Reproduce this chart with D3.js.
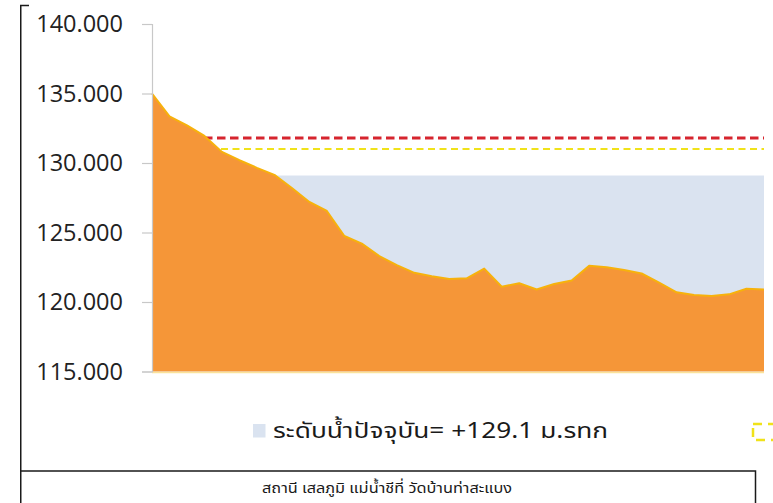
<!DOCTYPE html>
<html>
<head>
<meta charset="utf-8">
<script src="https://cdn.jsdelivr.net/npm/d3@7"></script>
<style>
  html, body { margin: 0; padding: 0; background: #fff; }
  svg { display: block; }
</style>
</head>
<body>
<svg id="chart" width="773" height="503"></svg>
<script>
// Water level profile (m. MSL) along the station reach
const levels = [135.0, 133.35, 132.7, 131.95, 130.8, 130.2, 129.65, 129.15, 128.2, 127.2,
                126.55, 124.75, 124.2, 123.3, 122.65, 122.1, 121.85, 121.65, 121.7, 122.4,
                121.1, 121.35, 120.9, 121.3, 121.55, 122.6, 122.5, 122.3, 122.05, 121.4,
                120.7, 120.5, 120.43, 120.55, 120.95, 120.9];
const positions = levels.map((_, i) => i);

const currentLevel = 129.1;   // ระดับน้ำปัจจุบัน
const criticalLevel = 131.8;  // red dashed line
const warningLevel = 131.0;   // yellow dashed line

const yTicks = [115, 120, 125, 130, 135, 140];
const legendLabel = "ระดับน้ำปัจจุบัน=  +129.1 ม.รทก";
const stationTitle = "สถานี เสลภูมิ แม่น้ำชีที่ วัดบ้านท่าสะแบง";

const svg = d3.select("#chart");
const plotL = 152, plotR = 764, plotT = 24, plotB = 371.5;

const x = d3.scalePoint().domain(positions).range([plotL, plotR]);
const y = d3.scaleLinear().domain([115, 140]).range([plotB, plotT]);

// current level band
svg.append("rect")
  .attr("x", plotL).attr("y", y(currentLevel))
  .attr("width", plotR - plotL).attr("height", y(115) - y(currentLevel))
  .attr("fill", "#dae3f0");

// threshold lines
svg.append("line")
  .attr("x1", plotL).attr("x2", plotR)
  .attr("y1", y(criticalLevel)).attr("y2", y(criticalLevel))
  .attr("stroke", "#d6252e").attr("stroke-width", 3)
  .attr("stroke-dasharray", "8.5,4.5");
svg.append("line")
  .attr("x1", plotL).attr("x2", plotR)
  .attr("y1", y(warningLevel)).attr("y2", y(warningLevel))
  .attr("stroke", "#f0e21a").attr("stroke-width", 2)
  .attr("stroke-dasharray", "7,4.5");

// water level area
const area = d3.area()
  .x(d => x(d[0])).y0(y(115)).y1(d => y(d[1]));
const line = d3.line().x(d => x(d[0])).y(d => y(d[1]));
const pts = positions.map((p, i) => [p, levels[i]]);
svg.append("path").datum(pts).attr("d", area).attr("fill", "#f59638");
svg.append("path").datum(pts).attr("d", line)
  .attr("fill", "none").attr("stroke", "#f7b20c").attr("stroke-width", 2)
  .attr("stroke-linejoin", "round");
svg.append("line")
  .attr("x1", plotL).attr("x2", plotR).attr("y1", plotB + 1).attr("y2", plotB + 1)
  .attr("stroke", "#fbe39a").attr("stroke-width", 1.5);

// y axis
const yAxis = d3.axisLeft(y).tickValues(yTicks).tickSize(10).tickPadding(19)
  .tickFormat(d3.format(".3f"));
const ga = svg.append("g").attr("transform", `translate(${plotL},0)`).call(yAxis);
ga.select(".domain").attr("stroke", "#c8c8c8").attr("stroke-width", 1.2);
ga.selectAll(".tick line").attr("stroke", "#c8c8c8").attr("stroke-width", 1.2);
ga.selectAll(".tick text")
  .attr("fill", "#222")
  .style("font-family", "'Open Sans', 'Noto Sans', sans-serif")
  .style("font-size", "23.5px");

// legend
svg.append("rect").attr("x", 253).attr("y", 424).attr("width", 12.5).attr("height", 13.5)
  .attr("fill", "#dae3f0");
svg.append("text").attr("x", 273).attr("y", 438)
  .attr("fill", "#1a1a1a")
  .attr("textLength", 335).attr("lengthAdjust", "spacingAndGlyphs")
  .style("font-family", "'Noto Sans Thai', 'Noto Sans', 'Open Sans', sans-serif")
  .style("font-size", "21.5px")
  .text(legendLabel);
svg.append("rect").attr("x", 753).attr("y", 424).attr("width", 28).attr("height", 16)
  .attr("fill", "none").attr("stroke", "#f0e21a").attr("stroke-width", 2.5)
  .attr("stroke-dasharray", "9,6");

// frame and station title box
const frame = svg.append("g").attr("stroke", "#1a1a1a").attr("stroke-width", 1.5).attr("fill", "none");
frame.append("path").attr("d", "M29,5.5 H20.75 V503");
frame.append("path").attr("d", "M20.75,471 H755.5 V503");
svg.append("text").attr("x", 262).attr("y", 492.5)
  .attr("fill", "#1a1a1a")
  .attr("textLength", 250).attr("lengthAdjust", "spacingAndGlyphs")
  .style("font-family", "'Noto Sans Thai', 'Noto Sans', sans-serif")
  .style("font-size", "14.5px")
  .text(stationTitle);
</script>
</body>
</html>
